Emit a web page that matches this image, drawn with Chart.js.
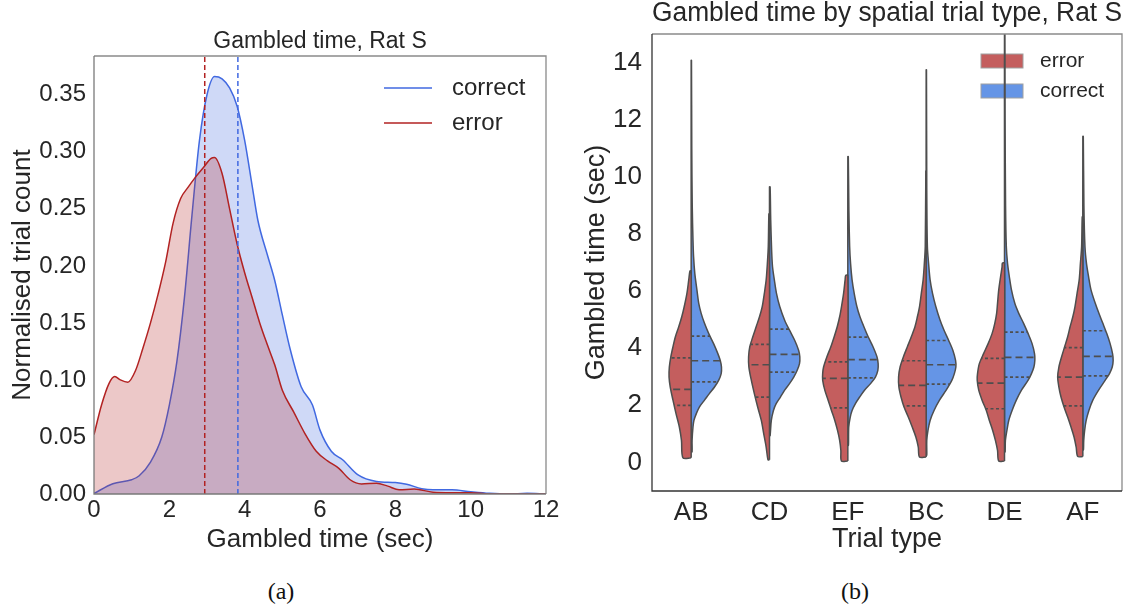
<!DOCTYPE html>
<html>
<head>
<meta charset="utf-8">
<script src="https://cdn.jsdelivr.net/npm/chart.js"></script>
<style>
  html, body { margin: 0; padding: 0; background: #fff; }
  body { width: 1133px; height: 607px; position: relative; overflow: hidden; }
  canvas { position: absolute; top: 0; }
  #kde { left: 0; }
  #violin { left: 565px; }
  .caption { position: absolute; top: 578px; font: 24px "Liberation Serif", serif; color: #111; transform: translateX(-50%); }
</style>
</head>
<body>
<canvas id="kde" width="565" height="560"></canvas>
<canvas id="violin" width="568" height="560"></canvas>
<div class="caption" style="left:281px">(a)</div>
<div class="caption" style="left:855px">(b)</div>
<script>
//PANEL (a) - gambled time density
const correctTimes = [0, 0.5, 1.0, 1.2, 1.5, 1.8, 2.0, 2.2, 2.4, 2.6, 2.8, 3.0, 3.2, 3.4, 3.6, 3.8, 4.0, 4.2, 4.35, 4.6, 4.8, 5.0, 5.2, 5.5, 5.8, 6.0, 6.3, 6.6, 7.0, 7.5, 8.0, 8.3, 8.7, 9.0, 9.5, 10, 10.5, 11, 11.5, 12];
const correctDensity = [0.0005, 0.009, 0.0125, 0.016, 0.028, 0.05, 0.078, 0.116, 0.172, 0.244, 0.31, 0.35, 0.366, 0.364, 0.356, 0.34, 0.31, 0.27, 0.24, 0.21, 0.187, 0.157, 0.128, 0.094, 0.078, 0.056, 0.0375, 0.03, 0.017, 0.011, 0.010, 0.0085, 0.0047, 0.0037, 0.0037, 0.002, 0.0006, 0, 0.0006, 0];
const errorTimes = [0, 0.2, 0.4, 0.55, 0.7, 0.9, 1.1, 1.3, 1.5, 1.7, 1.9, 2.1, 2.3, 2.5, 2.7, 2.9, 3.1, 3.2, 3.4, 3.6, 3.8, 4.0, 4.2, 4.4, 4.6, 4.8, 5.0, 5.3, 5.6, 5.9, 6.2, 6.5, 6.8, 7.1, 7.5, 7.8, 8.1, 8.5, 9.0, 9.5, 10, 10.5, 12];
const errorDensity = [0.052, 0.078, 0.097, 0.103, 0.100, 0.098, 0.108, 0.128, 0.15, 0.175, 0.203, 0.2375, 0.259, 0.269, 0.278, 0.286, 0.294, 0.295, 0.281, 0.25, 0.219, 0.194, 0.172, 0.15, 0.131, 0.113, 0.091, 0.072, 0.053, 0.0375, 0.029, 0.0225, 0.0125, 0.0088, 0.0094, 0.0069, 0.0037, 0.0044, 0.0016, 0.0012, 0.0012, 0, 0];
const errorMedian = 2.94;
const correctMedian = 3.82;
const kdeTimeTicks = [0, 2, 4, 6, 8, 10, 12];
const kdeDensityTicks = [0, 0.05, 0.10, 0.15, 0.20, 0.25, 0.30, 0.35];
const kdeMaxDensity = 0.384;

//PANEL (b) - split violins, [time, relative half width]
const trialTypes = ["AB", "CD", "EF", "BC", "DE", "AF"];
const errorAB = [[0.16,.27],[0.77,.32],[1.24,.39],[1.71,.50],[2.18,.60],[2.64,.69],[2.99,.73],[3.34,.72],[3.70,.67],[4.05,.60],[4.40,.52],[4.75,.41],[5.10,.31],[5.45,.23],[5.92,.14],[6.39,.08],[6.70,.04]];
const correctAB = [[0.37,.03],[0.77,.03],[1.24,.06],[1.47,.09],[1.71,.17],[1.94,.27],[2.18,.44],[2.41,.60],[2.64,.77],[2.88,.91],[3.11,.99],[3.34,1.0],[3.57,.96],[3.81,.88],[4.16,.74],[4.51,.58],[4.87,.44],[5.22,.33],[5.57,.25],[6.04,.19],[6.62,.12],[7.20,.08],[7.79,.06],[9.0,.035],[11.0,.02],[14.08,.01]];
const errorCD = [[0.09,.05],[0.54,.11],[1.00,.19],[1.47,.27],[1.94,.39],[2.41,.50],[2.88,.60],[3.34,.68],[3.70,.69],[4.05,.65],[4.40,.55],[4.75,.44],[5.10,.33],[5.45,.24],[5.92,.17],[6.39,.11],[6.97,.07],[7.56,.04],[8.70,.02]];
const correctCD = [[0.94,.02],[1.47,.06],[1.82,.13],[2.06,.22],[2.29,.36],[2.53,.50],[2.76,.66],[2.99,.80],[3.22,.91],[3.46,.99],[3.70,1.0],[3.93,.96],[4.28,.83],[4.63,.66],[4.98,.50],[5.45,.34],[5.92,.23],[6.39,.16],[6.85,.10],[7.44,.07],[8.5,.04],[9.65,.02]];
const errorEF = [[0.05,.21],[0.42,.23],[0.77,.27],[1.12,.34],[1.47,.43],[1.82,.54],[2.18,.65],[2.53,.76],[2.88,.83],[3.11,.83],[3.34,.80],[3.70,.69],[4.05,.56],[4.40,.45],[4.75,.35],[5.10,.27],[5.45,.21],[5.92,.14],[6.39,.09],[6.55,.07]];
const correctEF = [[0.6,.02],[1.24,.03],[1.59,.08],[1.82,.14],[2.06,.25],[2.29,.39],[2.53,.55],[2.76,.75],[2.99,.91],[3.22,.99],[3.46,1.0],[3.70,.96],[4.05,.83],[4.40,.67],[4.75,.53],[5.10,.40],[5.45,.30],[5.92,.21],[6.39,.14],[6.97,.09],[7.56,.06],[8.8,.035],[10.71,.015]];
const errorBC = [[0.19,.22],[0.54,.26],[0.89,.34],[1.24,.46],[1.59,.59],[1.94,.73],[2.29,.83],[2.64,.90],[2.99,.91],[3.34,.86],[3.70,.75],[4.05,.62],[4.40,.49],[4.75,.37],[5.10,.29],[5.45,.22],[5.92,.16],[6.39,.10],[6.97,.06],[7.56,.03],[10.2,.01]];
const correctBC = [[0.25,.02],[0.77,.02],[1.12,.06],[1.47,.13],[1.82,.26],[2.18,.44],[2.53,.66],[2.88,.85],[3.11,.93],[3.34,.98],[3.57,.97],[3.93,.88],[4.28,.74],[4.63,.59],[4.98,.46],[5.45,.32],[5.92,.21],[6.39,.13],[6.97,.08],[7.56,.04],[9.5,.02],[13.75,.01]];
const errorDE = [[0.05,.19],[0.42,.23],[0.77,.30],[1.12,.39],[1.47,.50],[1.82,.60],[2.18,.74],[2.53,.85],[2.88,.90],[3.11,.89],[3.46,.83],[3.81,.69],[4.16,.54],[4.51,.41],[4.87,.32],[5.22,.26],[5.57,.23],[6.04,.19],[6.50,.13],[6.85,.08],[6.98,.07]];
const correctDE = [[0.37,.02],[0.77,.03],[1.12,.08],[1.47,.14],[1.82,.25],[2.18,.39],[2.53,.56],[2.88,.78],[3.11,.89],[3.34,.97],[3.57,1.0],[3.81,.99],[4.16,.91],[4.51,.78],[4.87,.63],[5.22,.47],[5.57,.34],[6.04,.23],[6.50,.16],[6.97,.10],[7.56,.06],[9.0,.035],[12.0,.02],[16.5,.01]];
const errorAF = [[0.21,.17],[0.54,.22],[0.89,.29],[1.24,.39],[1.59,.50],[1.94,.62],[2.29,.72],[2.64,.79],[2.99,.83],[3.34,.79],[3.70,.70],[4.05,.60],[4.40,.50],[4.75,.42],[5.10,.33],[5.45,.26],[5.92,.19],[6.39,.12],[6.97,.08],[7.56,.04],[8.60,.02]];
const correctAF = [[0.44,.02],[0.77,.03],[1.12,.06],[1.47,.11],[1.82,.20],[2.18,.33],[2.53,.52],[2.88,.74],[3.11,.88],[3.34,.97],[3.57,1.0],[3.81,.98],[4.16,.90],[4.51,.79],[4.87,.66],[5.22,.53],[5.57,.41],[6.04,.27],[6.50,.19],[6.97,.12],[7.56,.07],[9.0,.035],[11.42,.015]];
const errorShapes = [errorAB, errorCD, errorEF, errorBC, errorDE, errorAF];
const correctShapes = [correctAB, correctCD, correctEF, correctBC, correctDE, correctAF];
// lower quartile, median, upper quartile
const errorQuartiles = [[2.00, 2.56, 3.66], [2.29, 3.42, 4.13], [1.91, 2.94, 3.52], [1.98, 2.70, 3.56], [1.88, 2.78, 3.64], [1.98, 2.99, 4.02]];
const correctQuartiles = [[2.82, 3.56, 4.42], [3.16, 3.78, 4.67], [2.96, 3.60, 4.39], [2.74, 3.42, 4.27], [2.99, 3.68, 4.56], [3.03, 3.71, 4.61]];
const violinTimeTicks = [0, 2, 4, 6, 8, 10, 12, 14];

//STYLE
const INK = "#262626";
const FONT = '"Liberation Sans", Arial, Helvetica, sans-serif';
const ERROR_LINE = "#b22222";
const CORRECT_LINE = "#4169e1";
const ERROR_VIOLIN = "#c45e5e";
const CORRECT_VIOLIN = "#6595e6";
const VIOLIN_EDGE = "#4e4e4e";
const violinWidth = 0.387; // widest half, in category units

const font = (size, lineHeight) => ({ family: FONT, size: size, weight: "normal", lineHeight: lineHeight || 1.2 });
const toPoints = (xs, ys) => xs.map((x, i) => ({ x: x, y: ys[i] }));
const fixedTicks = (values) => (axis) => { axis.ticks = values.map((v) => ({ value: v })); };

//box round the plot, left/bottom may be darker than top/right
const makeFrame = (near, far) => ({
  id: "frame",
  afterDatasetsDraw(chart) {
    const { ctx, chartArea: a } = chart;
    ctx.save();
    ctx.lineWidth = 1.3;
    ctx.strokeStyle = far;
    ctx.beginPath(); ctx.moveTo(a.left, a.top); ctx.lineTo(a.right, a.top); ctx.lineTo(a.right, a.bottom); ctx.stroke();
    ctx.strokeStyle = near;
    ctx.beginPath(); ctx.moveTo(a.left, a.top); ctx.lineTo(a.left, a.bottom); ctx.lineTo(a.right, a.bottom); ctx.stroke();
    ctx.restore();
  },
});

//legend with line samples, top right inside the plot
const lineLegend = {
  id: "lineLegend",
  afterDraw(chart) {
    const { ctx, chartArea: a } = chart;
    const items = [["correct", CORRECT_LINE], ["error", ERROR_LINE]];
    ctx.save();
    ctx.font = "24px " + FONT;
    ctx.textBaseline = "middle";
    items.forEach(([label, color], i) => {
      const y = a.top + 32 + i * 35;
      const x = a.right - 162;
      ctx.strokeStyle = color;
      ctx.lineWidth = 1.5;
      ctx.beginPath(); ctx.moveTo(x, y); ctx.lineTo(x + 48, y); ctx.stroke();
      ctx.fillStyle = INK;
      ctx.fillText(label, x + 68, y);
    });
    ctx.restore();
  },
};

//legend with colour patches, drawn under the violins
const patchLegend = {
  id: "patchLegend",
  beforeDatasetsDraw(chart) {
    const { ctx, chartArea: a } = chart;
    const items = [["error", ERROR_VIOLIN], ["correct", CORRECT_VIOLIN]];
    ctx.save();
    ctx.font = "21px " + FONT;
    ctx.textBaseline = "middle";
    items.forEach(([label, color], i) => {
      const y = a.top + 27 + i * 30;
      const x = a.right - 141;
      ctx.fillStyle = color;
      ctx.fillRect(x, y - 7, 42, 14);
      ctx.strokeStyle = "#a0a0a0";
      ctx.lineWidth = 1;
      ctx.strokeRect(x, y - 7, 42, 14);
      ctx.fillStyle = INK;
      ctx.fillText(label, x + 59, y);
    });
    ctx.restore();
  },
};

//CHART (a)
new Chart(document.getElementById("kde"), {
  type: "line",
  data: {
    datasets: [
      { data: [{ x: errorMedian, y: 0 }, { x: errorMedian, y: kdeMaxDensity }], borderColor: ERROR_LINE, borderWidth: 1.5, borderDash: [5, 3], pointRadius: 0, order: 0 },
      { data: [{ x: correctMedian, y: 0 }, { x: correctMedian, y: kdeMaxDensity }], borderColor: CORRECT_LINE, borderWidth: 1.5, borderDash: [5, 3], pointRadius: 0, order: 0 },
      { data: toPoints(errorTimes, errorDensity), borderColor: ERROR_LINE, backgroundColor: "rgba(178,34,34,0.25)", fill: "origin", borderWidth: 1.5, pointRadius: 0, cubicInterpolationMode: "monotone", order: 1 },
      { data: toPoints(correctTimes, correctDensity), borderColor: CORRECT_LINE, backgroundColor: "rgba(65,105,225,0.25)", fill: "origin", borderWidth: 1.5, pointRadius: 0, cubicInterpolationMode: "monotone", order: 2 },
    ],
  },
  options: {
    responsive: false,
    animation: false,
    events: [],
    layout: { padding: { left: 0, right: 19, top: 0, bottom: 4.4 } },
    plugins: {
      legend: { display: false },
      tooltip: { enabled: false },
      title: { display: true, text: "Gambled time, Rat S", color: INK, font: font(23), padding: { top: 28.2, bottom: 0.2 }, fullSize: false },
    },
    scales: {
      x: {
        type: "linear", min: 0, max: 12,
        afterBuildTicks: fixedTicks(kdeTimeTicks),
        afterFit: (s) => { s.height = 61.6; },
        grid: { display: false, drawTicks: false },
        border: { display: false },
        ticks: { color: INK, font: font(24), padding: 2, maxRotation: 0 },
        title: { display: true, text: "Gambled time (sec)", color: INK, font: font(26), padding: 0 },
      },
      y: {
        type: "linear", min: 0, max: kdeMaxDensity,
        afterBuildTicks: fixedTicks(kdeDensityTicks),
        afterFit: (s) => { s.width = 94; },
        grid: { display: false, drawTicks: false },
        border: { display: false },
        ticks: { color: INK, font: font(24), padding: 8, callback: (v) => v.toFixed(2) },
        title: { display: true, text: "Normalised trial count", color: INK, font: font(26), padding: { top: 7.4, bottom: 0 } },
      },
    },
  },
  plugins: [makeFrame("#7a7a7a", "#8a8a8a"), lineLegend],
});

//CHART (b)
//closed outline of one half violin: up the outer edge, back down the centre
var halfViolin = function (i, shape, side) {
  const bottom = shape[0][0];
  const top = shape[shape.length - 1][0];
  const pts = [{ x: i, y: bottom }];
  shape.forEach(([t, d]) => pts.push({ x: i + side * d * violinWidth, y: t }));
  pts.push({ x: i, y: top }, { x: i, y: (top + bottom) / 2 }, { x: i, y: bottom });
  return pts;
};
var widthAt = function (shape, t) {
  for (let k = 1; k < shape.length; k++) {
    if (shape[k][0] >= t) {
      const [t0, d0] = shape[k - 1];
      const [t1, d1] = shape[k];
      return d0 + ((d1 - d0) * (t - t0)) / (t1 - t0);
    }
  }
  return 0;
};

const violinSets = [];
trialTypes.forEach((name, i) => {
  [[errorShapes[i], errorQuartiles[i], -1, ERROR_VIOLIN], [correctShapes[i], correctQuartiles[i], 1, CORRECT_VIOLIN]].forEach(([shape, quarts, side, color]) => {
    violinSets.push({
      data: halfViolin(i, shape, side),
      backgroundColor: color,
      borderColor: VIOLIN_EDGE,
      borderWidth: 1.5,
      borderJoinStyle: "round",
      fill: "shape",
      tension: 0.3,
      pointRadius: 0,
      order: 2,
    });
    quarts.forEach((q, k) => {
      violinSets.push({
        data: [{ x: i, y: q }, { x: i + side * widthAt(shape, q) * violinWidth, y: q }],
        borderColor: VIOLIN_EDGE,
        borderWidth: 1.7,
        borderDash: k === 1 ? [7, 4] : [3, 2.5],
        pointRadius: 0,
        fill: false,
        order: 1,
      });
    });
  });
});

new Chart(document.getElementById("violin"), {
  type: "line",
  data: { datasets: violinSets },
  options: {
    responsive: false,
    animation: false,
    events: [],
    layout: { padding: { left: 0, right: 11, top: 0, bottom: 3.8 } },
    plugins: {
      legend: { display: false },
      tooltip: { enabled: false },
      title: { display: true, text: "Gambled time by spatial trial type, Rat S", color: INK, font: font(27, 1.0), padding: { top: 0.5, bottom: 6.5 }, fullSize: false },
    },
    scales: {
      x: {
        type: "linear", min: -0.5, max: trialTypes.length - 0.5,
        afterBuildTicks: fixedTicks(trialTypes.map((t, i) => i)),
        afterFit: (s) => { s.height = 65.2; },
        grid: { display: false, drawTicks: false },
        border: { display: false },
        ticks: { color: INK, font: font(26), padding: 6.4, maxRotation: 0, callback: (v) => trialTypes[v] },
        title: { display: true, text: "Trial type", color: INK, font: font(27), padding: 0 },
      },
      y: {
        type: "linear", min: -1, max: 15,
        afterBuildTicks: fixedTicks(violinTimeTicks),
        afterFit: (s) => { s.width = 87; },
        grid: { display: false, drawTicks: false },
        border: { display: false },
        ticks: { color: INK, font: font(26), padding: 10 },
        title: { display: true, text: "Gambled time (sec)", color: INK, font: font(27), padding: { top: 15.8, bottom: 0 } },
      },
    },
  },
  plugins: [makeFrame("#333333", "#8a8a8a"), patchLegend],
});
</script>
</body>
</html>
